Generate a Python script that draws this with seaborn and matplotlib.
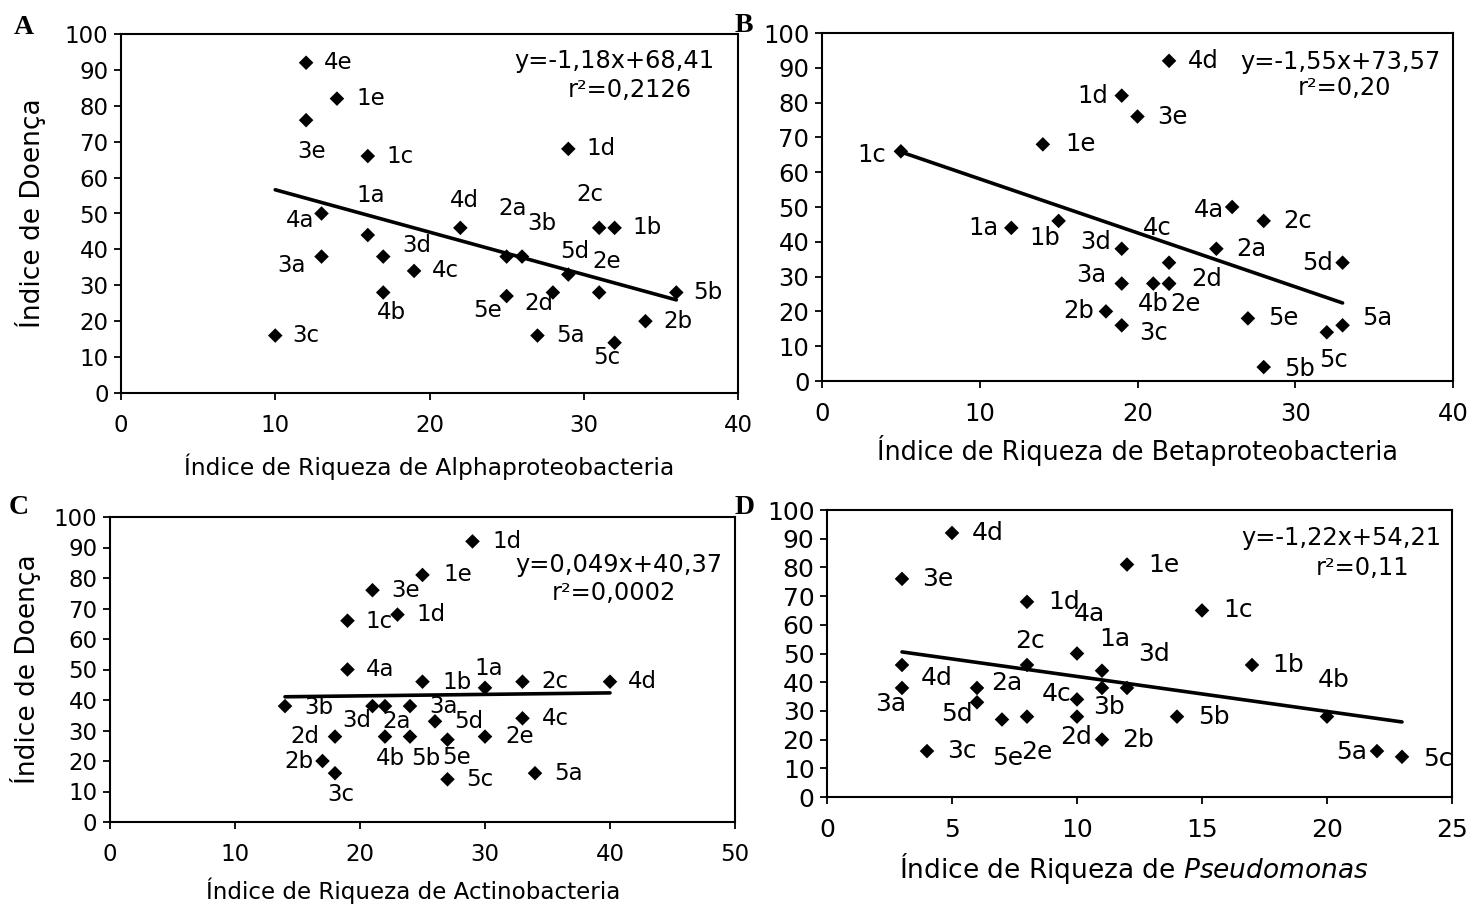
import matplotlib
matplotlib.use("Agg")
import matplotlib.pyplot as plt
import seaborn as sns
import numpy as np
import pandas as pd

# ---------------- data ----------------
A_labels = ['4e', '1e', '3e', '1c', '1d', '1a', '4a', '3a', '3d', '4c', '4b', '4d', '2a',
            '3b', '2c', '1b', '5d', '2e', '5e', '2d', '5a', '5c', '2b', '5b', '3c']
A_x = [12, 14, 12, 16, 29, 16, 13, 13, 17, 19, 17, 22, 25, 26, 31, 32, 29, 31, 25, 28, 27, 32, 34, 36, 10]
A_y = [92, 82, 76, 66, 68, 44, 50, 38, 38, 34, 28, 46, 38, 38, 46, 46, 33, 28, 27, 28, 16, 14, 20, 28, 16]
A_fit = (-1.18, 68.41)
A_eq = ["y=-1,18x+68,41", "r²=0,2126"]

B_labels = ['4d', '1d', '3e', '1e', '1c', '4a', '2c', '1a', '1b', '3d', '4c', '2a', '5d', '3a',
            '4b', '2e', '2d', '2b', '3c', '5e', '5c', '5a', '5b']
B_x = [22, 19, 20, 14, 5, 26, 28, 12, 15, 19, 22, 25, 33, 19, 21, 22, 22, 18, 19, 27, 32, 33, 28]
B_y = [92, 82, 76, 68, 66, 50, 46, 44, 46, 38, 34, 38, 34, 28, 28, 28, 28, 20, 16, 18, 14, 16, 4]
B_fit = (-1.55, 73.57)
B_eq = ["y=-1,55x+73,57", "r²=0,20"]

C_labels = ['1d', '1e', '3e', '1d', '1c', '4a', '1b', '1a', '2c', '4d', '3b', '3d', '2a', '3a',
            '5d', '4c', '2d', '4b', '5b', '5e', '2e', '2b', '3c', '5c', '5a']
C_x = [29, 25, 21, 23, 19, 19, 25, 30, 33, 40, 14, 21, 22, 24, 26, 33, 18, 22, 24, 27, 30, 17, 18, 27, 34]
C_y = [92, 81, 76, 68, 66, 50, 46, 44, 46, 46, 38, 38, 38, 38, 33, 34, 28, 28, 28, 27, 28, 20, 16, 14, 16]
C_fit = (0.049, 40.37)
C_eq = ["y=0,049x+40,37", "r²=0,0002"]

D_labels = ['4d', '1e', '3e', '1d', '1c', '4a', '1a', '2c', '3d', '1b', '4b', '4d', '3a', '2a',
            '5d', '4c', '3b', '2d', '5b', '5e', '2e', '2b', '3c', '5a', '5c']
D_x = [5, 12, 3, 8, 15, 10, 11, 8, 12, 17, 20, 3, 3, 6, 6, 10, 11, 10, 14, 7, 8, 11, 4, 22, 23]
D_y = [92, 81, 76, 68, 65, 50, 44, 46, 38, 46, 28, 46, 38, 38, 33, 34, 38, 28, 28, 27, 28, 20, 16, 16, 14]
D_fit = (-1.22, 54.21)
D_eq = ["y=-1,22x+54,21", "r²=0,11"]

y_ticks = list(range(0, 101, 10))
A_xticks = [0, 10, 20, 30, 40]
B_xticks = [0, 10, 20, 30, 40]
C_xticks = [0, 10, 20, 30, 40, 50]
D_xticks = [0, 5, 10, 15, 20, 25]

ylabel_text = "Índice de Doença"
A_xlabel = "Índice de Riqueza de Alphaproteobacteria"
B_xlabel = "Índice de Riqueza de Betaproteobacteria"
C_xlabel = "Índice de Riqueza de Actinobacteria"
D_xlabel = "Índice de Riqueza de $\\mathit{Pseudomonas}$"

# ---------------- layout / style (label offsets in pixels) ----------------
A_off = [(18, 0), (19, 0), (-9, -31), (19, 0), (18, 0), (-11, 40), (-36, -7), (-44, -9), (19, 11),
         (18, 0), (-6, -20), (-10, 27), (-8, 48), (5, 33), (-23, 33), (18, 0), (-8, 23), (-7, 31),
         (-33, -14), (-29, -11), (19, 0), (-21, -15), (18, 0), (17, 0), (17, 0)]
B_off = [(19, 0), (-44, 0), (20, 0), (22, 0), (-44, -4), (-38, -3), (20, 0), (-43, 0), (-29, -17),
         (-42, 7), (-26, 35), (20, 0), (-40, 0), (-46, 9), (-15, -20), (1, -20), (22, 5), (-43, 0),
         (17, -8), (20, 0), (-8, -28), (20, 7), (20, -2)]
C_off = [(20, 0), (21, 0), (19, 0), (19, 0), (18, -1), (18, 0), (20, -1), (-11, 19), (19, 0), (18, 0),
         (19, -1), (-30, -14), (-3, -15), (19, 0), (19, 0), (19, 0), (-45, 0), (-9, -22), (1, -22),
         (-5, -18), (20, 0), (-38, 0), (-8, -21), (19, 0), (19, 0)]
D_off = [(20, 0), (21, 0), (20, 0), (21, 0), (21, 0), (-3, 40), (-3, 32), (-12, 24), (11, 34), (20, 0),
         (-9, 37), (19, -13), (-27, -16), (14, 5), (-36, -12), (-35, 5), (-9, -19), (-17, -20), (21, 0),
         (-10, -38), (-6, -35), (20, 0), (20, 0), (-41, -1), (21, -2)]

sns.set_style("ticks")
plt.rcParams['font.family'] = ['DejaVu Sans']
plt.rcParams['mathtext.fontset'] = 'dejavusans'
for k in ['text.color', 'axes.labelcolor', 'xtick.color', 'ytick.color',
          'xtick.labelcolor', 'ytick.labelcolor', 'axes.edgecolor']:
    plt.rcParams[k] = 'black'

W, H = 1468, 905
fig = plt.figure(figsize=(W / 100, H / 100), dpi=100)


def px_rect(x0, y0, x1, y1):
    return [x0 / W, 1 - y1 / H, (x1 - x0) / W, (y1 - y0) / H]


panels = [
    dict(rect=px_rect(121, 34, 738, 393), labels=A_labels, x=A_x, y=A_y, fit=A_fit, eq=A_eq,
         xticks=A_xticks, xlabel=A_xlabel, ylabel=True, off=A_off, fs=16.5, xfs=16.8,
         eqpos=[(38.5, 92.5), (37.0, 84.4)], xlab_pos=(0.5, -0.205), ylab_pos=(-0.147, 0.5),
         letter='A', letter_pos=(24, 27)),
    dict(rect=px_rect(822, 33, 1453, 381), labels=B_labels, x=B_x, y=B_y, fit=B_fit, eq=B_eq,
         xticks=B_xticks, xlabel=B_xlabel, ylabel=False, off=B_off, fs=17.5, xfs=18.4,
         eqpos=[(39.2, 91.7), (36.1, 84.2)], xlab_pos=(0.5, -0.2), ylab_pos=None,
         letter='B', letter_pos=(744, 26)),
    dict(rect=px_rect(110, 517, 735, 822), labels=C_labels, x=C_x, y=C_y, fit=C_fit, eq=C_eq,
         xticks=C_xticks, xlabel=C_xlabel, ylabel=True, off=C_off, fs=16.5, xfs=16.6,
         eqpos=[(49.0, 84.3), (45.3, 75.1)], xlab_pos=(0.485, -0.225), ylab_pos=(-0.136, 0.5),
         letter='C', letter_pos=(19, 508)),
    dict(rect=px_rect(827, 510, 1452, 797), labels=D_labels, x=D_x, y=D_y, fit=D_fit, eq=D_eq,
         xticks=D_xticks, xlabel=D_xlabel, ylabel=False, off=D_off, fs=18.0, xfs=19.0,
         eqpos=[(24.56, 90.2), (23.3, 79.8)], xlab_pos=(0.49, -0.25), ylab_pos=None,
         letter='D', letter_pos=(745, 508)),
]

for p in panels:
    ax = fig.add_axes(p['rect'])
    fs = p['fs']
    df = pd.DataFrame({'x': p['x'], 'y': p['y'], 'label': p['labels']})
    sns.scatterplot(data=df, x='x', y='y', ax=ax, marker='D', s=55, color='black',
                    edgecolor='none', linewidth=0, zorder=4)
    xs = np.array([df['x'].min(), df['x'].max()], dtype=float)
    slope, icpt = p['fit']
    sns.lineplot(x=xs, y=slope * xs + icpt, ax=ax, color='black', linewidth=2.6, zorder=3)

    ax.set_xlim(p['xticks'][0], p['xticks'][-1])
    ax.set_ylim(0, 100)
    ax.set_xticks(p['xticks'])
    ax.set_yticks(y_ticks)
    for sp in ax.spines.values():
        sp.set_visible(True)
        sp.set_linewidth(1.5)
        sp.set_color('black')
    ax.tick_params(direction='out', length=5, width=1.3, labelsize=fs, colors='black')
    ax.tick_params(axis='x', pad=10)
    ax.tick_params(axis='y', pad=4)
    ax.grid(False)

    for lbl, xv, yv, off in zip(df['label'], df['x'], df['y'], p['off']):
        ax.annotate(lbl, (xv, yv), xytext=off, textcoords='offset pixels',
                    ha='left', va='center', fontsize=fs, zorder=5)

    (ex, ey), (rx, ry) = p['eqpos']
    ax.text(ex, ey, p['eq'][0], ha='right', va='center', fontsize=17.4)
    ax.text(rx, ry, p['eq'][1], ha='right', va='center', fontsize=17.4)

    ax.set_xlabel(p['xlabel'], fontsize=p['xfs'])
    ax.xaxis.set_label_coords(*p['xlab_pos'])
    ax.xaxis.label.set_verticalalignment('center')
    if p['ylabel']:
        ax.set_ylabel(ylabel_text, fontsize=19)
        ax.yaxis.set_label_coords(*p['ylab_pos'])
        ax.yaxis.label.set_verticalalignment('center')
    else:
        ax.set_ylabel('')

    lx, ly = p['letter_pos']
    fig.text(lx / W, 1 - ly / H, p['letter'], fontfamily='Liberation Serif',
             fontweight='bold', fontsize=20, ha='center', va='center')

fig.savefig('out.png', dpi=100)
